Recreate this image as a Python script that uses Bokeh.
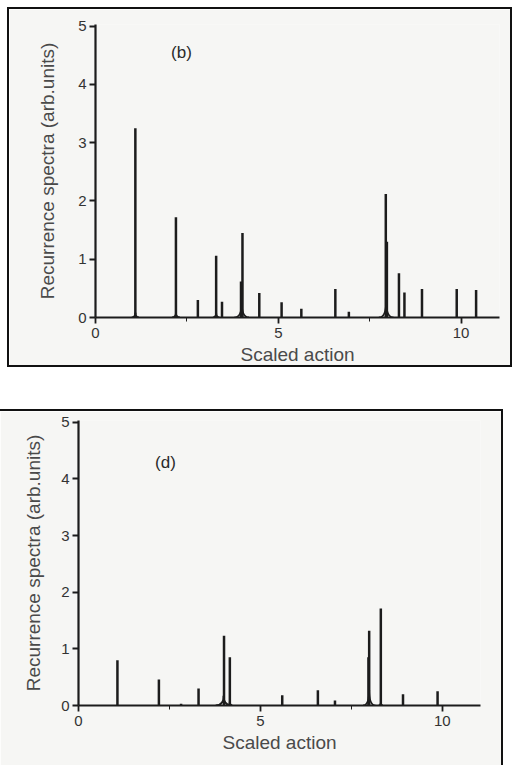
from bokeh.plotting import figure
from bokeh.models import Range1d, FixedTicker, Label, Title
from bokeh.embed import file_html
from bokeh.resources import INLINE

# ---- data: panel (b) ----
b_peak_x = [1.09, 2.20, 2.80, 3.30, 3.46, 3.98, 4.02, 4.48, 5.09, 5.63, 6.56, 6.93,
            7.94, 7.97, 8.30, 8.45, 8.93, 9.88, 10.41]
b_peak_h = [3.25, 1.72, 0.30, 1.06, 0.27, 0.62, 1.45, 0.42, 0.26, 0.15, 0.49, 0.10,
            2.12, 1.30, 0.76, 0.43, 0.49, 0.49, 0.47]
b_hump_x = [1.09, 2.20, 3.30, 4.00, 7.95]
b_hump_w = [0.10, 0.11, 0.09, 0.20, 0.20]
b_hump_h = [0.08, 0.08, 0.08, 0.25, 0.28]

# ---- data: panel (d) ----
d_peak_x = [1.07, 2.21, 2.82, 3.30, 4.00, 4.16, 5.60, 6.58, 7.05, 7.97, 7.99, 8.31, 8.92, 9.87]
d_peak_h = [0.80, 0.46, 0.03, 0.30, 1.23, 0.85, 0.18, 0.27, 0.09, 0.85, 1.32, 1.71, 0.20, 0.25]
d_hump_x = [3.99, 4.16, 7.99, 8.31]
d_hump_w = [0.22, 0.07, 0.17, 0.06]
d_hump_h = [0.17, 0.07, 0.28, 0.05]

x_major = [0, 5, 10]
x_minor = [2.5, 7.5]
y_major = [0, 1, 2, 3, 4, 5]

FONT = "Liberation Sans"
INK = "#1c1c1c"
PAPER = "#f6f6f4"


def make_panel(px, ph, hx, hw, hh, tag, tag_xy, xlab_offset, w, h, styles,
               ml, mr, mt, mb, tick_fs, ylab_standoff):
    p = figure(width=w, height=h, output_backend="svg", toolbar_location=None,
               x_range=Range1d(0, 11.05), y_range=Range1d(0, 5.03),
               min_border_left=ml, min_border_right=mr,
               min_border_top=mt, min_border_bottom=mb)
    p.styles = styles
    p.background_fill_color = PAPER
    p.border_fill_color = PAPER
    p.outline_line_color = None
    p.grid.visible = False

    # spectrum: baseline humps and sharp peaks
    lx0 = [c - ww for c, ww in zip(hx, hw)]
    rx0 = [c + ww for c, ww in zip(hx, hw)]
    zeros = [0] * len(hx)
    p.quadratic(x0=lx0, y0=zeros, x1=hx, y1=hh, cx=hx, cy=zeros,
                line_color=INK, line_width=1.8)
    p.quadratic(x0=rx0, y0=zeros, x1=hx, y1=hh, cx=hx, cy=zeros,
                line_color=INK, line_width=1.8)
    p.segment(x0=px, y0=[0] * len(px), x1=px, y1=ph, line_color=INK, line_width=2.5)

    # axes
    p.xaxis.ticker = FixedTicker(ticks=x_major, minor_ticks=x_minor)
    p.yaxis.ticker = FixedTicker(ticks=y_major)
    for ax in (p.xaxis, p.yaxis):
        ax.axis_line_color = INK
        ax.axis_line_width = 2.2
        ax.major_tick_line_color = INK
        ax.major_tick_line_width = 1.8
        ax.major_tick_in = 0
        ax.major_tick_out = 6
        ax.minor_tick_line_color = INK
        ax.minor_tick_in = 0
        ax.minor_tick_out = 4
        ax.major_label_text_font = FONT
        ax.major_label_text_font_size = f"{tick_fs}px"
        ax.major_label_text_color = "#333333"
        ax.axis_label_text_font = FONT
        ax.axis_label_text_font_style = "normal"
        ax.axis_label_text_font_size = "19px"
        ax.axis_label_text_color = "#4a4a4a"
    p.yaxis.minor_tick_line_color = None
    p.yaxis.major_label_standoff = 3
    p.xaxis.major_label_standoff = 4
    p.yaxis.axis_label = "Recurrence spectra (arb.units)"
    p.yaxis.axis_label_standoff = ylab_standoff

    p.add_layout(Title(text="Scaled action", align="center", offset=xlab_offset,
                       text_font=FONT, text_font_size="19px", text_font_style="normal",
                       text_color="#4a4a4a", standoff=2), "below")
    p.add_layout(Label(x=tag_xy[0], y=tag_xy[1], text=tag, text_font=FONT,
                       text_font_size="17px", text_color="#2a2a2a",
                       text_align="center", text_baseline="middle"))
    return p


p1 = make_panel(b_peak_x, b_peak_h, b_hump_x, b_hump_w, b_hump_h, "(b)", (2.35, 4.55), -19,
                505, 360, {"border": "2px solid #111", "margin-left": "7px", "margin-top": "7px"},
                86, 15, 15, 52, 15, 17)
p2 = make_panel(d_peak_x, d_peak_h, d_hump_x, d_hump_w, d_hump_h, "(d)", (2.39, 4.29), -18,
                503, 356, {"border-top": "2px solid #111", "border-right": "2px solid #111",
                           "margin-top": "42px"},
                78, 23, 9, 62, 15, 14)

open("out.html", "w").write(file_html([p1, p2], INLINE))
